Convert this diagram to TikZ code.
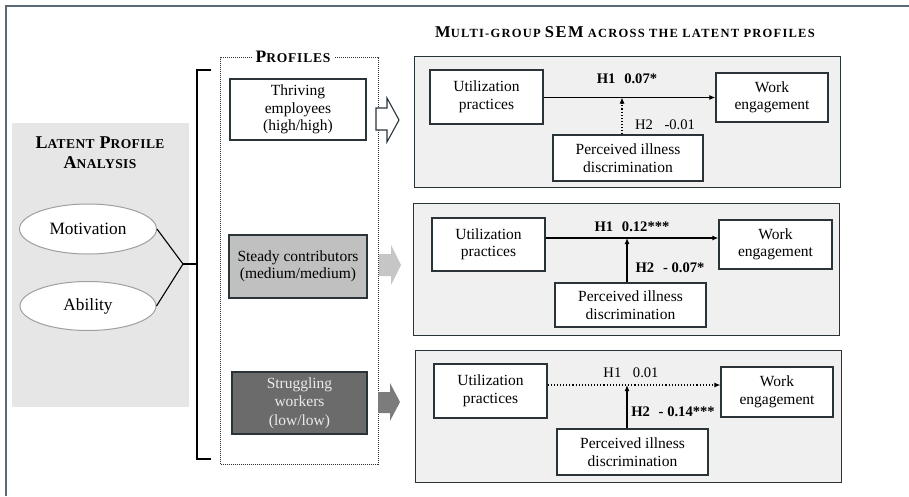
\documentclass[tikz,border=0pt]{standalone}
\usepackage{fontspec}
\setmainfont{Liberation Serif}
\usetikzlibrary{arrows.meta,shapes.geometric}
\definecolor{framec}{HTML}{5A6A75}
\definecolor{boxc}{HTML}{2A3338}
\definecolor{panelfill}{HTML}{F0F0F0}
\definecolor{lpafill}{HTML}{E6E6E6}
\definecolor{steadyfill}{HTML}{C0C0C0}
\definecolor{strugfill}{HTML}{6B6B6B}
\definecolor{arrlight}{HTML}{C6C6C6}
\definecolor{arrdark}{HTML}{7C7C7C}
\newcommand{\fs}[1]{\fontsize{#1}{1.13\dimexpr #1pt\relax}\selectfont}
\newcommand{\lsp}[1]{\addfontfeature{LetterSpace=#1}}
\tikzset{
  panel/.style={draw=boxc, line width=1.4pt, fill=panelfill, rectangle, anchor=north west, inner sep=0pt},
  varbox/.style={draw=boxc, line width=1.3pt, fill=white, rectangle, align=center, inner sep=0pt, font=\fs{15.5}},
  profbox/.style={draw=boxc, line width=1.3pt, rectangle, align=center, inner sep=0pt, font=\fs{15.5}},
  latent/.style={draw=gray!75, line width=1pt, fill=white, ellipse, inner sep=0pt, font=\fs{17.3}},
  lbl/.style={font=\fs{14.6}, inner sep=0pt},
  thinarr/.style={line width=1.1pt, -{Latex[length=6pt,width=5pt]}},
  thickarr/.style={line width=2pt, -{Latex[length=6pt,width=5pt]}},
  dotarr/.style={line width=1.1pt, dotted, -{Latex[length=6pt,width=5pt]}},
}
\begin{document}
\begin{tikzpicture}[x=1pt,y=-1pt]
\useasboundingbox (0,0) rectangle (909,496);
% outer frame (top and left edges)
\draw[framec, line width=2pt] (909,6) -- (6,6) -- (6,496);

% Latent profile analysis
\node[rectangle, fill=lpafill, minimum width=177pt, minimum height=284pt, inner sep=0pt, anchor=north west] (lpa) at (12,123) {};
\node[align=center, inner sep=0pt, font=\bfseries\lsp{3}] (lpatitle) at (100,153)
  {{\fs{18}L}{\fs{13.5}ATENT}\hspace{5pt}{\fs{18}P}{\fs{13.5}ROFILE}\\[7pt] {\fs{18}A}{\fs{13.5}NALYSIS}};
\node[latent, minimum width=137pt, minimum height=50pt] (mot) at (88,229) {Motivation};
\node[latent, minimum width=136pt, minimum height=49pt] (abil) at (88,306) {Ability};
\coordinate (junc) at (183,264);
\coordinate (bm) at (197,264);
\coordinate (bt) at (197,70);
\coordinate (bb) at (197,459);
\coordinate (btr) at (211,70);
\coordinate (bbr) at (211,459);
\draw[line width=1.1pt, black] (mot.east) -- (junc) -- (abil.east);
\draw[line width=1.1pt, black] (junc) -- (bm);
\draw[line width=1.1pt, black] (btr) -- (bt) -- (bb) -- (bbr);

% Profiles
\node[rectangle, draw=boxc, densely dotted, line width=1pt, minimum width=158pt, minimum height=407pt, inner sep=0pt, anchor=north west] (prof) at (220,57) {};
\node[fill=white, inner sep=4pt, font=\bfseries\lsp{6}] (proftitle) at (293,57) {{\fs{17.5}P}{\fs{13.5}ROFILES}};
\node[profbox, fill=white, minimum width=136pt, minimum height=61pt] (thr) at (298,109.5) {Thriving\\employees\\(high/high)};
\node[profbox, fill=steadyfill, minimum width=138pt, minimum height=63pt] (std) at (298,266.5) {Steady contributors\\(medium/medium)};
\node[profbox, fill=strugfill, text=white!92!black, minimum width=135pt, minimum height=62pt] (str) at (299.5,403) {Struggling\\[1pt]workers\\[1pt](low/low)};

% big arrows
\draw[boxc, line width=1.1pt, fill=white] (376,108) -- (387,108) -- (387,98) -- (399,120) -- (387,142) -- (387,130) -- (376,130) -- cycle;
\fill[arrlight] (379,254) -- (391,254) -- (391,245) -- (401,265) -- (391,285) -- (391,276) -- (379,276) -- cycle;
\fill[arrdark] (378,392) -- (390,392) -- (390,383) -- (400,402) -- (390,421) -- (390,413) -- (378,413) -- cycle;

% SEM title
\node[inner sep=0pt, font=\bfseries\lsp{10}] (semtitle) at (625,32)
  {{\fs{16.5}M}{\fs{12.5}ULTI-GROUP}\hspace{4pt}{\fs{16.5}SEM}\hspace{4pt}{\fs{12.5}ACROSS THE LATENT PROFILES}};

% Panel 1
\node[panel, minimum width=426pt, minimum height=131pt] (p1) at (414,56) {};
\node[varbox, minimum width=113pt, minimum height=54pt] (u1) at (486.5,97) {Utilization\\practices};
\node[varbox, minimum width=112pt, minimum height=49pt] (w1) at (772,97.5) {Work\\engagement};
\node[varbox, minimum width=150pt, minimum height=46pt] (d1) at (628,158) {Perceived illness\\discrimination};
\coordinate (m1) at (622,97.5);
\draw[thinarr] (u1.east |- m1) -- (w1.west |- m1);
\draw[dotarr] (d1.north -| m1) -- (m1);
\node[lbl, font=\bfseries\fs{14.6}] (h1a) at (627,79) {H1\hspace{0.6em}0.07*};
\node[lbl] (h2a) at (665,125) {H2\hspace{0.8em}-0.01};

% Panel 2
\node[panel, minimum width=426pt, minimum height=132pt] (p2) at (413,203) {};
\node[varbox, minimum width=113pt, minimum height=53pt] (u2) at (488.5,244.5) {Utilization\\practices};
\node[varbox, minimum width=113pt, minimum height=49pt] (w2) at (775.5,244.5) {Work\\engagement};
\node[varbox, minimum width=151pt, minimum height=44pt] (d2) at (630.5,305) {Perceived illness\\discrimination};
\coordinate (m2) at (627,238);
\draw[thickarr] (u2.east |- m2) -- (w2.west |- m2);
\draw[thickarr] (d2.north -| m2) -- (m2);
\node[lbl, font=\bfseries\fs{14.6}] (h1b) at (632,227) {H1\hspace{0.6em}0.12***};
\node[lbl, font=\bfseries\fs{14.6}] (h2b) at (670,268) {H2\hspace{0.6em}- 0.07*};

% Panel 3
\node[panel, minimum width=426pt, minimum height=132pt] (p3) at (415,350) {};
\node[varbox, minimum width=113pt, minimum height=54pt] (u3) at (490.5,391) {Utilization\\practices};
\node[varbox, minimum width=112pt, minimum height=50pt] (w3) at (777,392) {Work\\engagement};
\node[varbox, minimum width=151pt, minimum height=46pt] (d3) at (632.5,452) {Perceived illness\\discrimination};
\coordinate (m3) at (627,385);
\draw[dotarr] (u3.east |- m3) -- (w3.west |- m3);
\draw[thickarr] (d3.north -| m3) -- (m3);
\node[lbl] (h1c) at (631,373) {H1\hspace{0.8em}0.01};
\node[lbl, font=\bfseries\fs{14.6}] (h2c) at (673,412) {H2\hspace{0.6em}- 0.14***};
\end{tikzpicture}
\end{document}
